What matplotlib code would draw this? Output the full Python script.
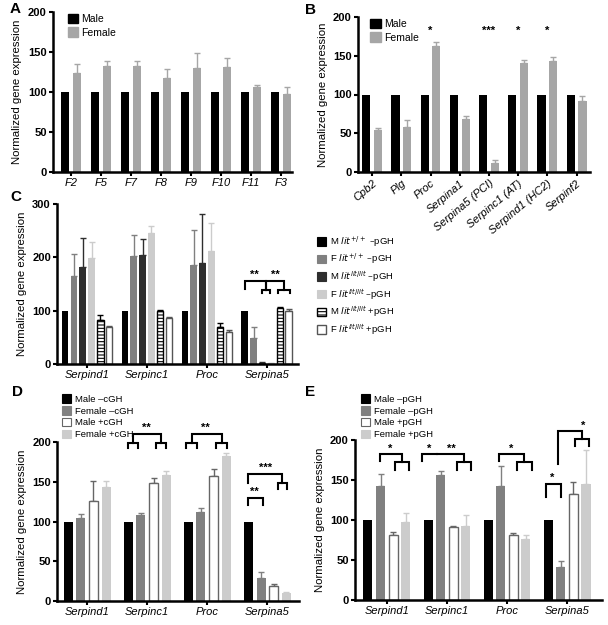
import numpy as np
import matplotlib
matplotlib.use('Agg')
import matplotlib.pyplot as plt
from matplotlib.patches import Patch

plt.rcParams['font.family'] = ['Liberation Sans', 'DejaVu Sans']
plt.rcParams['hatch.linewidth'] = 0.8

# ---------------------------------------------------------------------------
# data
# ---------------------------------------------------------------------------
a_genes = ['F2', 'F5', 'F7', 'F8', 'F9', 'F10', 'F11', 'F3']
a_male = [100, 100, 100, 100, 100, 100, 100, 100]
a_female = [124, 132, 133, 117, 130, 131, 106, 98]
a_female_err = [11, 7, 6, 12, 19, 11, 3, 8]

b_genes = ['Cpb2', 'Plg', 'Proc', 'Serpina1', 'Serpina5 (PCI)', 'Serpinc1 (AT)',
           'Serpind1 (HC2)', 'Serpinf2']
b_male = [100, 100, 100, 100, 100, 100, 100, 100]
b_female = [54, 58, 163, 69, 12, 141, 143, 91]
b_female_err = [3, 9, 5, 3, 4, 4, 5, 7]
b_stars = ['', '', '*', '', '***', '*', '*', '']

cde_genes = ['Serpind1', 'Serpinc1', 'Proc', 'Serpina5']

c_labels = [r'M $\it{lit}^{+/+}$ –pGH', r'F $\it{lit}^{+/+}$ –pGH',
            r'M $\it{lit}^{lit/lit}$ –pGH', r'F $\it{lit}^{lit/lit}$ –pGH',
            r'M $\it{lit}^{lit/lit}$ +pGH', r'F $\it{lit}^{lit/lit}$ +pGH']
c_vals = [[100, 100, 100, 100],
          [165, 203, 185, 48],
          [181, 205, 190, 2],
          [198, 246, 212, 1],
          [82, 99, 70, 105],
          [69, 86, 60, 99]]
c_errs = [[0, 0, 0, 0],
          [42, 38, 67, 22],
          [55, 30, 92, 1],
          [30, 13, 52, 0.5],
          [9, 2, 6, 1],
          [2, 2, 4, 4]]

d_labels = ['Male –cGH', 'Female –cGH', 'Male +cGH', 'Female +cGH']
d_vals = [[100, 100, 100, 100],
          [105, 108, 112, 29],
          [126, 148, 157, 19],
          [144, 159, 183, 10]]
d_errs = [[0, 0, 0, 0],
          [5, 3, 5, 7],
          [25, 7, 9, 3],
          [7, 4, 3, 1]]

e_labels = ['Male –pGH', 'Female –pGH', 'Male +pGH', 'Female +pGH']
e_vals = [[100, 100, 100, 100],
          [143, 156, 143, 41],
          [81, 91, 81, 132],
          [97, 92, 76, 145]]
e_errs = [[0, 0, 0, 0],
          [15, 5, 24, 8],
          [4, 2, 3, 16],
          [12, 14, 5, 42]]

# significance brackets: (x1, x2, y_left_end, y_top, y_right_end)
c_brackets = [(2.63, 2.99, 140, 156, 139), (2.99, 3.28, 139, 156, 139),
              (2.92, 3.05, 134, 139, 134), (3.19, 3.39, 134, 139, 134)]
c_sig = [(2.80, 157, '**'), (3.15, 157, '**')]

d_brackets = [(0.68, 0.85, 192, 199, 192), (1.15, 1.32, 192, 199, 192),
              (0.765, 1.235, 199, 210, 199),
              (1.65, 1.83, 192, 199, 192), (2.15, 2.33, 192, 199, 192),
              (1.74, 2.24, 199, 210, 199),
              (2.68, 3.25, 149, 160, 148), (3.17, 3.33, 141, 148, 141),
              (2.68, 2.92, 121, 130, 121)]
d_sig = [(0.98, 211, '**'), (1.97, 211, '**'), (2.97, 161, '***'), (2.78, 131, '**')]

e_brackets = [(-0.12, 0.25, 174, 182, 172), (0.13, 0.37, 163, 172, 163),
              (0.58, 0.83, 174, 182, 182), (0.83, 1.28, 182, 182, 172),
              (1.17, 1.40, 163, 172, 163),
              (1.87, 2.29, 174, 182, 172), (2.17, 2.42, 163, 172, 163),
              (2.65, 2.90, 129, 145, 129),
              (2.85, 3.25, 170, 211, 201), (3.13, 3.37, 193, 201, 193)]
e_sig = [(0.06, 183, '*'), (0.70, 183, '*'), (1.08, 183, '**'), (2.07, 183, '*'),
         (2.75, 146, '*'), (3.27, 212, '*')]

BLACK = '#000000'
GREY = '#808080'
DARK = '#2e2e2e'
LIGHT = '#cccccc'
AB_FEMALE = '#a6a6a6'


def style_axes(ax, ymax, yticks):
    for s in ['top', 'right']:
        ax.spines[s].set_visible(False)
    for s in ['left', 'bottom']:
        ax.spines[s].set_linewidth(1.8)
    ax.set_ylim(0, ymax)
    ax.set_yticks(yticks)
    ax.tick_params(axis='both', width=1.5, length=3, labelsize=8, pad=1.5)
    for lab in ax.get_yticklabels():
        lab.set_fontweight('bold')
    ax.set_ylabel('Normalized gene expression', fontsize=8.2, labelpad=4)


def draw_bar(ax, x, vals, errs, width, face, edge, ecol, hatch=None, lw=0):
    ax.bar(x, vals, width, color=face, edgecolor=edge, linewidth=lw, hatch=hatch, zorder=2)
    errs = np.asarray(errs, dtype=float)
    m = errs > 0
    if m.any():
        ax.errorbar(np.asarray(x)[m], np.asarray(vals)[m],
                    yerr=[np.zeros(m.sum()), errs[m]], fmt='none',
                    ecolor=ecol, elinewidth=1.0, capsize=2, capthick=1.0, zorder=1)


def draw_brackets(ax, brackets, sig):
    for x1, x2, yl, yt, yr in brackets:
        ax.plot([x1, x1, x2, x2], [yl, yt, yt, yr], color='k', lw=1.5,
                clip_on=False, solid_joinstyle='miter', zorder=3)
    for x, y, s in sig:
        ax.text(x, y, s, ha='center', va='bottom', fontsize=8, fontweight='bold')


fig = plt.figure(figsize=(6.08, 6.25), dpi=100)

# ---------------------------------------------------------------------------
# A
# ---------------------------------------------------------------------------
axA = fig.add_axes([0.087, 0.7248, 0.393, 0.256])
x = np.arange(len(a_genes))
draw_bar(axA, x - 0.2, a_male, [0] * len(a_male), 0.27, BLACK, BLACK, BLACK)
draw_bar(axA, x + 0.2, a_female, a_female_err, 0.27, AB_FEMALE, AB_FEMALE, AB_FEMALE)
axA.set_xlim(-0.6, 7.37)
axA.set_xticks(x)
axA.set_xticklabels(a_genes, style='italic')
style_axes(axA, 200, [0, 50, 100, 150, 200])
axA.legend(handles=[Patch(color=BLACK), Patch(color=AB_FEMALE)], labels=['Male', 'Female'],
           loc='upper left', bbox_to_anchor=(0.04, 1.02), frameon=False, fontsize=7.5,
           handlelength=1.0, handleheight=1.0, handletextpad=0.3, labelspacing=0.3,
           borderpad=0)

# ---------------------------------------------------------------------------
# B
# ---------------------------------------------------------------------------
axB = fig.add_axes([0.589, 0.7248, 0.381, 0.248])
x = np.arange(len(b_genes))
draw_bar(axB, x - 0.2, b_male, [0] * len(b_male), 0.28, BLACK, BLACK, BLACK)
draw_bar(axB, x + 0.2, b_female, b_female_err, 0.28, AB_FEMALE, AB_FEMALE, AB_FEMALE)
axB.set_xlim(-0.48, 7.45)
axB.set_xticks(x)
axB.set_xticklabels(b_genes, style='italic', rotation=40, ha='right',
                    rotation_mode='anchor')
style_axes(axB, 200, [0, 50, 100, 150, 200])
for xi, s in zip(x, b_stars):
    if s:
        axB.text(xi, 176, s, ha='center', va='bottom', fontsize=8, fontweight='bold')
axB.legend(handles=[Patch(color=BLACK), Patch(color=AB_FEMALE)], labels=['Male', 'Female'],
           loc='upper left', bbox_to_anchor=(0.03, 1.02), frameon=False, fontsize=7.5,
           handlelength=1.0, handleheight=1.0, handletextpad=0.3, labelspacing=0.3,
           borderpad=0)

# ---------------------------------------------------------------------------
# C
# ---------------------------------------------------------------------------
axC = fig.add_axes([0.094, 0.4176, 0.396, 0.256])
x = np.arange(len(cde_genes))
c_style = [(BLACK, BLACK, BLACK, None, 0),
           (GREY, GREY, GREY, None, 0),
           (DARK, DARK, DARK, None, 0),
           (LIGHT, LIGHT, LIGHT, None, 0),
           ('white', BLACK, BLACK, '-----', 1.0),
           ('white', '#555555', '#555555', None, 1.0)]
w = 0.147
c_handles = []
for i, (vals, errs) in enumerate(zip(c_vals, c_errs)):
    face, edge, ecol, hatch, lw = c_style[i]
    draw_bar(axC, x + (i - 2.5) * w, vals, errs, 0.11, face, edge, ecol, hatch, lw)
    c_handles.append(Patch(facecolor=face, edgecolor=edge, hatch=hatch, linewidth=max(lw, 0.8)))
axC.set_xlim(-0.5, 3.52)
axC.set_xticks(x)
axC.set_xticklabels(cde_genes, style='italic')
style_axes(axC, 300, [0, 100, 200, 300])
draw_brackets(axC, c_brackets, c_sig)
fig.legend(handles=c_handles, labels=c_labels, loc='upper left',
           bbox_to_anchor=(0.521, 0.625), frameon=False, fontsize=6.8,
           handlelength=1.0, handleheight=1.0, handletextpad=0.4, labelspacing=0.3,
           borderpad=0, borderaxespad=0)

# ---------------------------------------------------------------------------
# D and E
# ---------------------------------------------------------------------------
de_style = [(BLACK, BLACK, BLACK, 0),
            (GREY, GREY, GREY, 0),
            ('white', '#666666', '#666666', 1.0),
            (LIGHT, LIGHT, LIGHT, 0)]


def four_bar_panel(rect, vals_all, errs_all, labels, brackets, sig, xlim, leg_anchor):
    ax = fig.add_axes(rect)
    x = np.arange(len(cde_genes))
    handles = []
    for i, (vals, errs) in enumerate(zip(vals_all, errs_all)):
        face, edge, ecol, lw = de_style[i]
        draw_bar(ax, x + (i - 1.5) * 0.21, vals, errs, 0.15, face, edge, ecol, None, lw)
        handles.append(Patch(facecolor=face, edgecolor=edge if lw else face,
                             linewidth=0.8))
    ax.set_xlim(*xlim)
    ax.set_xticks(x)
    ax.set_xticklabels(cde_genes, style='italic')
    style_axes(ax, 200, [0, 50, 100, 150, 200])
    draw_brackets(ax, brackets, sig)
    fig.legend(handles=handles, labels=labels, loc='upper left',
               bbox_to_anchor=leg_anchor, frameon=False, fontsize=6.8,
               handlelength=1.0, handleheight=1.0, handletextpad=0.4, labelspacing=0.25,
               borderpad=0, borderaxespad=0)
    return ax


axD = four_bar_panel([0.094, 0.0384, 0.398, 0.2544], d_vals, d_errs, d_labels,
                     d_brackets, d_sig, (-0.5, 3.53), (0.102, 0.369))
axE = four_bar_panel([0.584, 0.040, 0.406, 0.256], e_vals, e_errs, e_labels,
                     e_brackets, e_sig, (-0.53, 3.58), (0.593, 0.369))

# panel letters
for lab, (px, py) in zip('ABCDE', [(10, 9), (305, 10), (10, 197), (12, 392), (305, 392)]):
    fig.text(px / 608, 1 - py / 625, lab, fontsize=11, fontweight='bold',
             ha='left', va='center')

fig.savefig('out.png', dpi=100)
